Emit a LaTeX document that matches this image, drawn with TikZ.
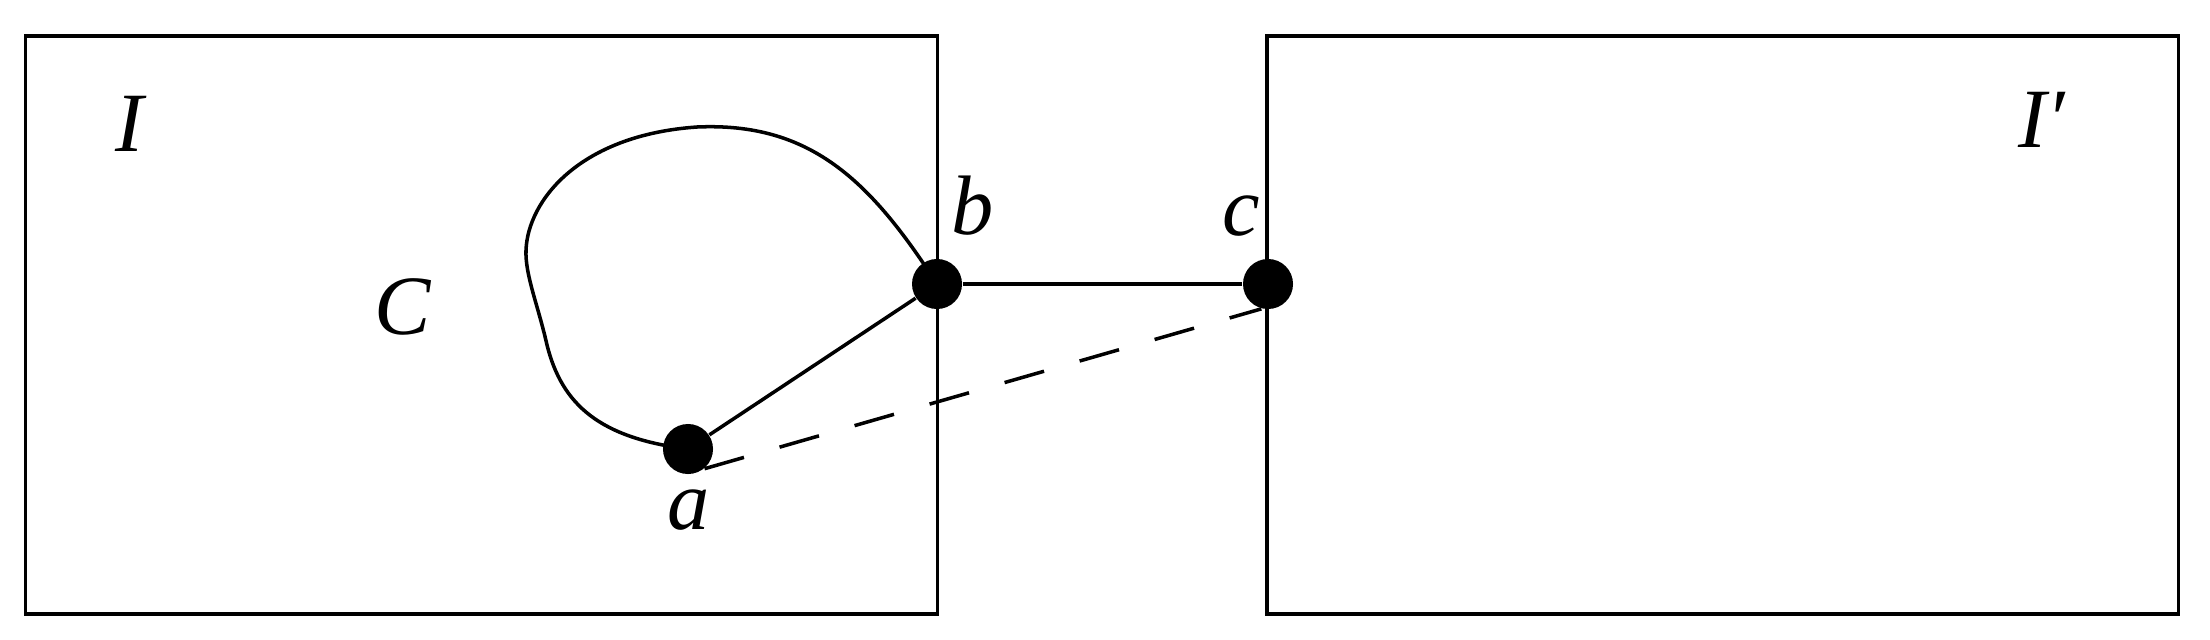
\documentclass[tikz,border=0pt]{standalone}
\usepackage{fontspec}
\setmainfont{Liberation Serif}
\begin{document}
\begin{tikzpicture}[x=0.01cm,y=-0.01cm,
  frame/.style={draw,line width=1pt,inner sep=0pt,minimum width=9.11cm,minimum height=5.78cm},
  dot/.style={circle,fill,inner sep=0pt,minimum size=0.5cm},
  lab/.style={inner sep=0pt,font=\fontsize{24}{28}\selectfont\itshape},
  edge/.style={line width=1pt}]
\useasboundingbox (0,0) rectangle (2210,639);
\node[frame] (boxI) at (481.5,325) {};
\node[frame] (boxJ) at (1722.5,325) {};
\node[lab] (labI) at (130,124) {I};
\node[lab] (labJ) at (2042,120) {I′};
\node[lab] (labC) at (403,307) {C};
\node[lab] (labb) at (973,206) {b};
\node[lab] (labc) at (1241,216) {c};
\node[lab] (laba) at (689,510) {a};
\draw[edge] (688,449) .. controls (600,438) and (562,405) .. (547,345)
  .. controls (538,305) and (525,275) .. (526,250)
  .. controls (528,200) and (580,135) .. (697,127)
  .. controls (810,122) and (870,180) .. (937,284);
\node[dot] (a) at (688,449) {};
\node[dot] (b) at (937,284) {};
\node[dot] (c) at (1268,284) {};
\draw[edge] (a) -- (b);
\draw[edge] (b) -- (c);
\draw[edge,dash pattern=on 0.41cm off 0.37cm] (a.-50) -- (c.255);
\end{tikzpicture}
\end{document}
